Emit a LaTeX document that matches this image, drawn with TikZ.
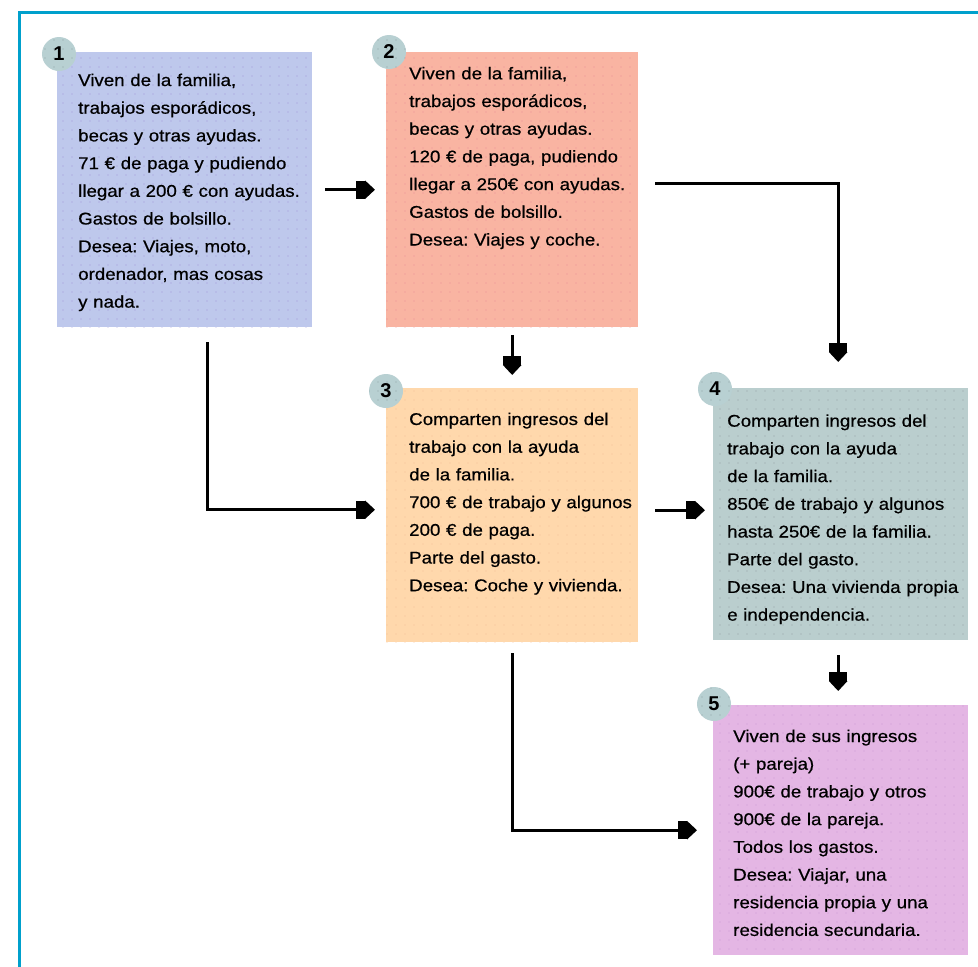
\documentclass[tikz,border=0pt]{standalone}
\usepackage{fontspec}
\setmainfont{Liberation Sans}
\newfontfamily\boxfont{Liberation Sans}[FakeStretch=1.1,FakeBold=0.6]
\usetikzlibrary{arrows.meta,patterns.meta}
\definecolor{frameblue}{RGB}{0,160,204}
\definecolor{fillA}{RGB}{190,200,236}\definecolor{dotA}{RGB}{160,150,215}
\definecolor{fillB}{RGB}{249,180,162}\definecolor{dotB}{RGB}{232,145,150}
\definecolor{fillC}{RGB}{255,216,172}\definecolor{dotC}{RGB}{245,192,152}
\definecolor{fillD}{RGB}{186,206,206}\definecolor{dotD}{RGB}{150,162,166}
\definecolor{fillE}{RGB}{228,182,228}\definecolor{dotE}{RGB}{205,155,212}
\definecolor{badgecol}{RGB}{184,208,210}\definecolor{dotG}{RGB}{145,162,166}
\tikzset{
  panel/.style n args={2}{rectangle, fill=#1, inner sep=0pt, anchor=north west,
    postaction={pattern={Dots[distance=9pt,radius=0.65pt]}, pattern color=#2}},
  badge/.style={circle, fill=badgecol, minimum size=34pt, inner sep=0pt,
    postaction={pattern={Dots[distance=9pt,radius=0.65pt]}, pattern color=dotG},
    font=\bfseries\fontsize{20}{20}\selectfont},
  txt/.style={anchor=base west, text width=250pt, align=left, inner sep=0pt,
    font=\boxfont\fontsize{17}{27.7}\selectfont\frenchspacing},
  arr/.style={line width=2.8pt,
    -{Rectangle[length=9pt,width=18pt,sep=0pt]Triangle[length=10pt,width=18pt]}}
}
\begin{document}
\begin{tikzpicture}[x=1pt,y=-1pt]
\useasboundingbox (0,0) rectangle (978,967);
% frame
\draw[frameblue, line width=2.7pt] (19.3,967) -- (19.3,12.2) -- (978,12.2);
% boxes
\node[panel={fillA}{dotA}, minimum width=255pt, minimum height=275pt] (b1) at (57,52) {};
\node[panel={fillB}{dotB}, minimum width=252pt, minimum height=275pt] (b2) at (386,52) {};
\node[panel={fillC}{dotC}, minimum width=252pt, minimum height=254pt] (b3) at (386,388) {};
\node[panel={fillD}{dotD}, minimum width=255pt, minimum height=252pt] (b4) at (713,388) {};
\node[panel={fillE}{dotE}, minimum width=255pt, minimum height=250pt] (b5) at (713,705) {};
% badges
\node[badge] (n1) at (59,54) {1};
\node[badge] (n2) at (389,52) {2};
\node[badge] (n3) at (386,391) {3};
\node[badge] (n4) at (715,389) {4};
\node[badge] (n5) at (714,704) {5};
% texts
\node[txt] (t1) at (78,86) {Viven de la familia,\\trabajos esporádicos,\\becas y otras ayudas.\\71 € de paga y pudiendo\\llegar a 200 € con ayudas.\\Gastos de bolsillo.\\Desea: Viajes, moto,\\ordenador, mas cosas\\y nada.};
\node[txt] (t2) at (409,79.3) {Viven de la familia,\\trabajos esporádicos,\\becas y otras ayudas.\\120 € de paga, pudiendo\\llegar a 250€ con ayudas.\\Gastos de bolsillo.\\Desea: Viajes y coche.};
\node[txt] (t3) at (409,425) {Comparten ingresos del\\trabajo con la ayuda\\de la familia.\\700 € de trabajo y algunos\\200 € de paga.\\Parte del gasto.\\Desea: Coche y vivienda.};
\node[txt] (t4) at (727,426.7) {Comparten ingresos del\\trabajo con la ayuda\\de la familia.\\850€ de trabajo y algunos\\hasta 250€ de la familia.\\Parte del gasto.\\Desea: Una vivienda propia\\e independencia.};
\node[txt] (t5) at (733,742) {Viven de sus ingresos\\(+ pareja)\\900€ de trabajo y otros\\900€ de la pareja.\\Todos los gastos.\\Desea: Viajar, una\\residencia propia y una\\residencia secundaria.};
% connectors
\draw[arr, shorten <=13pt, shorten >=11pt] (b1.east) -- (b2.west);
\draw[arr, shorten <=17pt, shorten >=26pt] ([yshift=6.5pt]b2.east) -| ([xshift=-2.5pt]b4.north);
\draw[arr, shorten <=8pt, shorten >=13pt] (b2.south) -- (b3.north);
\draw[arr, shorten <=15pt, shorten >=11pt] ([xshift=22.5pt]b1.south) |- ([yshift=5.5pt]b3.west);
\draw[arr, shorten <=17pt, shorten >=8pt] ([yshift=5pt]b3.east) -- ([yshift=4pt]b4.west);
\draw[arr, shorten <=15pt, shorten >=14pt] ([xshift=-2.5pt]b4.south) -- ([xshift=-2.5pt]b5.north);
\draw[arr, shorten <=11pt, shorten >=16pt] (b3.south) |- (b5.west);
\end{tikzpicture}
\end{document}
